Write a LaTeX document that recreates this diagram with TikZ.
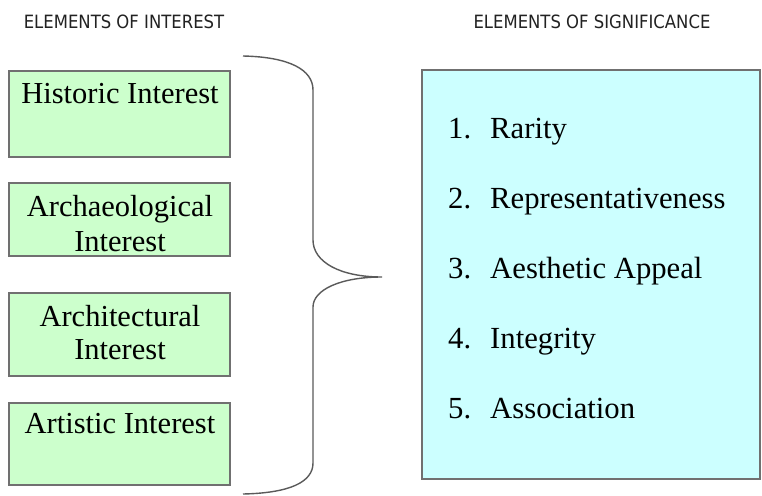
\documentclass[tikz,border=0pt]{standalone}
\usepackage{fontspec}
\setmainfont{Liberation Serif}
\newfontfamily\hdrfont[FakeStretch=0.9]{DejaVu Sans}
\definecolor{boxgreen}{HTML}{CCFFCC}
\definecolor{boxcyan}{HTML}{CCFFFF}
\definecolor{edgegray}{HTML}{707070}
\definecolor{bracegray}{HTML}{5A5A5A}
\definecolor{hdrgray}{HTML}{222222}
\begin{document}
\begin{tikzpicture}[x=1pt,y=-1pt,
  hdr/.style={font=\hdrfont\fontsize{18.3}{21}\selectfont, text=hdrgray, inner sep=0pt},
  greenbox/.style={draw=edgegray, line width=1.6pt, fill=boxgreen},
  cyanbox/.style={draw=edgegray, line width=1.6pt, fill=boxcyan},
  boxtext/.style={font=\fontsize{30.5}{34}\selectfont, inner sep=0pt, anchor=base},
  itemtext/.style={font=\fontsize{30.7}{34}\selectfont, inner sep=0pt, anchor=base west},
  bracestyle/.style={draw=bracegray, line width=1.4pt}]
\useasboundingbox (0,0) rectangle (762,495);
\fill[white] (0,0) rectangle (762,495);
% headers
\node[hdr] (h1) at (124,22) {ELEMENTS OF INTEREST};
\node[hdr] (h2) at (592,22) {ELEMENTS OF SIGNIFICANCE};
% left boxes
\draw[greenbox] (9,71) rectangle (230,157);
\draw[greenbox] (9,183) rectangle (230,256);
\draw[greenbox] (9,293) rectangle (230,376);
\draw[greenbox] (9,403) rectangle (230,485);
\node[boxtext] (t1) at (120,103) {Historic Interest};
\node[boxtext] (t2a) at (120,216) {Archaeological};
\node[boxtext] (t2b) at (120,251) {Interest};
\node[boxtext] (t3a) at (120,326) {Architectural};
\node[boxtext] (t3b) at (120,359) {Interest};
\node[boxtext] (t4) at (120,433) {Artistic Interest};
% brace
\coordinate (bt) at (243,56);
\coordinate (tip) at (382,277);
\coordinate (bb) at (243,494);
\draw[bracestyle] (bt) .. controls (290,57) and (313,70) .. (313,90) -- (313,240)
  .. controls (313,262) and (340,277) .. (tip)
  .. controls (340,277) and (313,290) .. (313,307) -- (313,463)
  .. controls (313,482) and (290,493) .. (bb);
% right box
\draw[cyanbox] (422,70) rectangle (760,479);
\node[itemtext] (n1) at (448,138) {1.};
\node[itemtext] (n2) at (448,208) {2.};
\node[itemtext] (n3) at (448,278) {3.};
\node[itemtext] (n4) at (448,348) {4.};
\node[itemtext] (n5) at (448,418) {5.};
\node[itemtext] (i1) at (490,138) {Rarity};
\node[itemtext] (i2) at (490,208) {Representativeness};
\node[itemtext] (i3) at (490,278) {Aesthetic Appeal};
\node[itemtext] (i4) at (490,348) {Integrity};
\node[itemtext] (i5) at (490,418) {Association};
\end{tikzpicture}
\end{document}
